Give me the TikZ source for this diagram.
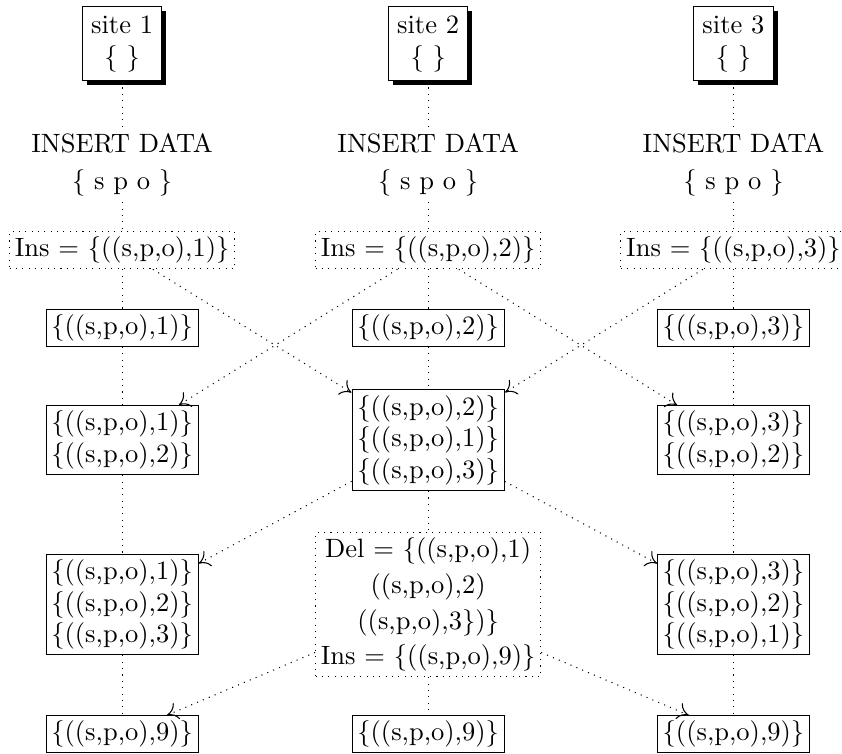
\documentclass[tikz,border=0pt]{standalone}
\usetikzlibrary{shadows,arrows.meta,decorations.markings}

\begin{document}
\begin{tikzpicture}[
  site/.style={draw, fill=white, align=center,
    drop shadow={fill=black, opacity=1, shadow xshift=1.6pt, shadow yshift=-1.6pt}},
  query/.style={align=center, inner sep=2pt},
  state/.style={draw, align=center, inner sep=2pt},
  op/.style={draw, dotted, align=center, inner sep=2pt},
  life/.style={dotted},
  msg/.style={dotted, postaction={decorate},
    decoration={markings, mark=at position 1 with {\arrow[solid]{To[length=4pt,width=6.5pt]}}}}]
\useasboundingbox (0,0) rectangle (11.17,9.99);
% site 1
\node[site] (S1) at (1.62,9.41) {site 1\\\{ \}};
\node[query] (Q1) at (1.62,7.80) {INSERT DATA\\[2pt]\{ s p o \}};
\node[op] (I1) at (1.62,6.67) {Ins = \{((s,p,o),1)\}};
\node[state] (A1) at (1.62,5.64) {\{((s,p,o),1)\}};
\node[state] (B1) at (1.62,4.15) {\{((s,p,o),1)\}\\\{((s,p,o),2)\}};
\node[state] (C1) at (1.62,1.97) {\{((s,p,o),1)\}\\\{((s,p,o),2)\}\\\{((s,p,o),3)\}};
\node[state] (D1) at (1.62,0.25) {\{((s,p,o),9)\}};
% site 2
\node[site] (S2) at (5.68,9.41) {site 2\\\{ \}};
\node[query] (Q2) at (5.68,7.80) {INSERT DATA\\[2pt]\{ s p o \}};
\node[op] (I2) at (5.68,6.67) {Ins = \{((s,p,o),2)\}};
\node[state] (A2) at (5.68,5.64) {\{((s,p,o),2)\}};
\node[state] (B2) at (5.68,4.15) {\{((s,p,o),2)\}\\\{((s,p,o),1)\}\\\{((s,p,o),3)\}};
\node[op] (C2) at (5.68,1.97) {Del = \{((s,p,o),1)\\[1.5pt]((s,p,o),2)\\[1.5pt]((s,p,o),3\})\}\\[1.5pt]Ins = \{((s,p,o),9)\}};
\node[state] (D2) at (5.68,0.25) {\{((s,p,o),9)\}};
% site 3
\node[site] (S3) at (9.73,9.41) {site 3\\\{ \}};
\node[query] (Q3) at (9.73,7.80) {INSERT DATA\\[2pt]\{ s p o \}};
\node[op] (I3) at (9.73,6.67) {Ins = \{((s,p,o),3)\}};
\node[state] (A3) at (9.73,5.64) {\{((s,p,o),3)\}};
\node[state] (B3) at (9.73,4.15) {\{((s,p,o),3)\}\\\{((s,p,o),2)\}};
\node[state] (C3) at (9.73,1.97) {\{((s,p,o),3)\}\\\{((s,p,o),2)\}\\\{((s,p,o),1)\}};
\node[state] (D3) at (9.73,0.25) {\{((s,p,o),9)\}};
% lifelines
\foreach \i in {1,2,3}
  \draw[life] (S\i) -- (Q\i) -- (I\i) -- (A\i) -- (B\i) -- (C\i) -- (D\i);
% messages
\draw[msg] (I1) -- (B2);
\draw[msg] (I2) -- (B1);
\draw[msg] (I2) -- (B3);
\draw[msg] (I3) -- (B2);
\draw[msg] (B2) -- (C1);
\draw[msg] (B2) -- (C3);
\draw[msg] (C2) -- (D1);
\draw[msg] (C2) -- (D3);
\end{tikzpicture}
\end{document}
